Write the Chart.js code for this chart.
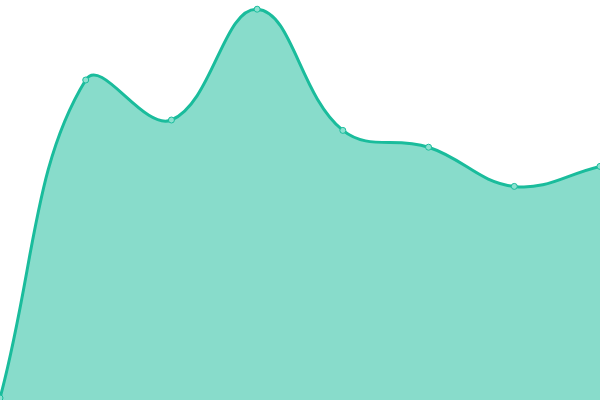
<!DOCTYPE html>
<html><head><meta charset="utf-8">
<script src="https://cdn.jsdelivr.net/npm/chart.js@4/dist/chart.umd.min.js"></script>
<style>html,body{margin:0;padding:0;background:#fff}#w{width:600px;height:400px}</style>
</head><body><div id="w"><canvas id="c"></canvas></div>
<script>
const labels = ["1","2","3","4","5","6","7","8"];
const values = [0.5, 80, 70, 97.7, 67.4, 63.2, 53.4, 58.4];
new Chart(document.getElementById('c'), {
  type: 'line',
  data: { labels: labels, datasets: [{
    data: values,
    fill: true,
    backgroundColor: 'rgba(26,188,156,0.52)',
    borderColor: '#1abc9c',
    borderWidth: 3,
    tension: 0.4,
    pointRadius: 3,
    pointBorderWidth: 1,
    pointBackgroundColor: 'rgba(140,225,208,1)',
    pointBorderColor: '#1abc9c'
  }]},
  options: {
    responsive: true, maintainAspectRatio: false, animation: false,
    layout: { padding: 0, autoPadding: false },
    plugins: { legend: { display: false }, tooltip: { enabled: false } },
    scales: {
      x: { display: false, offset: false },
      y: { display: false, min: 0, max: 100 }
    }
  }
});
</script></body></html>
